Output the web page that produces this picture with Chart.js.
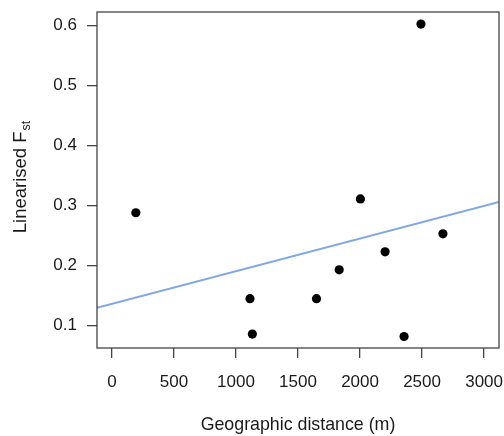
<!DOCTYPE html>
<html>
<head>
<meta charset="utf-8">
<script src="https://cdn.jsdelivr.net/npm/chart.js@4/dist/chart.umd.min.js"></script>
<style>
  html, body { margin: 0; padding: 0; background: #fff; }
  #wrap { width: 504px; height: 436px; position: relative; }
</style>
</head>
<body>
<div id="wrap"><canvas id="c" width="504" height="436"></canvas></div>
<script>
// Data
const distance = [193, 1113, 1132, 1649, 1832, 2003, 2202, 2355, 2491, 2668];
const fst      = [0.288, 0.145, 0.086, 0.145, 0.193, 0.311, 0.223, 0.082, 0.602, 0.253];
// Regression line end points (as read at the plot edges)
const fitDistance = [-120, 3120];
const fitFst      = [0.130, 0.306];
// Tick labels
const xTicks = [0, 500, 1000, 1500, 2000, 2500, 3000];
const yTicks = [0.1, 0.2, 0.3, 0.4, 0.5, 0.6];

const FONT = '"Liberation Sans", Arial, Helvetica, sans-serif';
const TXT = '#1a1a1a';
const AXC = '#444';

const boxPlugin = {
  id: 'box',
  afterDatasetsDraw(chart) {
    const {ctx, chartArea: a} = chart;
    ctx.save();
    ctx.strokeStyle = AXC;
    ctx.lineWidth = 1.3;
    ctx.strokeRect(a.left, a.top, a.right - a.left, a.bottom - a.top);
    ctx.restore();
  }
};

const yTitlePlugin = {
  id: 'ytitle',
  afterDraw(chart) {
    const {ctx} = chart;
    ctx.save();
    ctx.translate(21, 177);
    ctx.rotate(-Math.PI / 2);
    ctx.fillStyle = TXT;
    ctx.textBaseline = 'middle';
    const main = 'Linearised F';
    const sub = 'st';
    const mainFont = '18.5px ' + FONT;
    const subFont = '12.5px ' + FONT;
    ctx.font = mainFont;
    const w1 = ctx.measureText(main).width;
    ctx.font = subFont;
    const w2 = ctx.measureText(sub).width;
    const total = w1 + w2 + 1;
    ctx.textAlign = 'left';
    ctx.font = mainFont;
    ctx.fillText(main, -total / 2, 0);
    ctx.font = subFont;
    ctx.fillText(sub, -total / 2 + w1 + 1, 6);
    ctx.restore();
  }
};

new Chart(document.getElementById('c'), {
  type: 'scatter',
  data: {
    datasets: [
      {
        label: 'points',
        data: distance.map((d, i) => ({x: d, y: fst[i]})),
        backgroundColor: '#000',
        borderColor: '#000',
        pointRadius: 4.6,
        pointHoverRadius: 4.6,
        borderWidth: 0,
        order: 0
      },
      {
        label: 'fit',
        type: 'line',
        data: fitDistance.map((d, i) => ({x: d, y: fitFst[i]})),
        borderColor: '#82a8e4',
        borderWidth: 2,
        pointRadius: 0,
        fill: false,
        order: 1
      }
    ]
  },
  options: {
    responsive: false,
    animation: false,
    events: [],
    layout: { padding: { left: 0, top: 12, right: 5, bottom: 0 } },
    plugins: { legend: { display: false }, tooltip: { enabled: false } },
    scales: {
      x: {
        type: 'linear',
        min: -120,
        max: 3120,
        afterBuildTicks(s) { s.ticks = xTicks.map(v => ({value: v})); },
        afterFit(s) { s.height = 88; s.paddingLeft = 0; s.paddingRight = 0; },
        grid: { display: true, drawOnChartArea: false, drawTicks: true, tickLength: 10, color: AXC, lineWidth: 1.3 },
        border: { display: false },
        ticks: { color: TXT, font: { family: FONT, size: 17 }, padding: 14, maxRotation: 0, autoSkip: false,
                 callback: v => String(v) },
        title: { display: true, text: 'Geographic distance (m)', color: TXT, font: { family: FONT, size: 17.8 }, padding: { top: 0, bottom: 0 } }
      },
      y: {
        type: 'linear',
        min: 0.0629,
        max: 0.6221,
        afterBuildTicks(s) { s.ticks = yTicks.map(v => ({value: v})); },
        afterFit(s) { s.width = 97; s.paddingTop = 0; s.paddingBottom = 0; },
        grid: { display: true, drawOnChartArea: false, drawTicks: true, tickLength: 10, color: AXC, lineWidth: 1.3 },
        border: { display: false },
        ticks: { color: TXT, font: { family: FONT, size: 17 }, padding: 10, autoSkip: false,
                 callback: v => v.toFixed(1) }
      }
    }
  },
  plugins: [boxPlugin, yTitlePlugin]
});
</script>
</body>
</html>
